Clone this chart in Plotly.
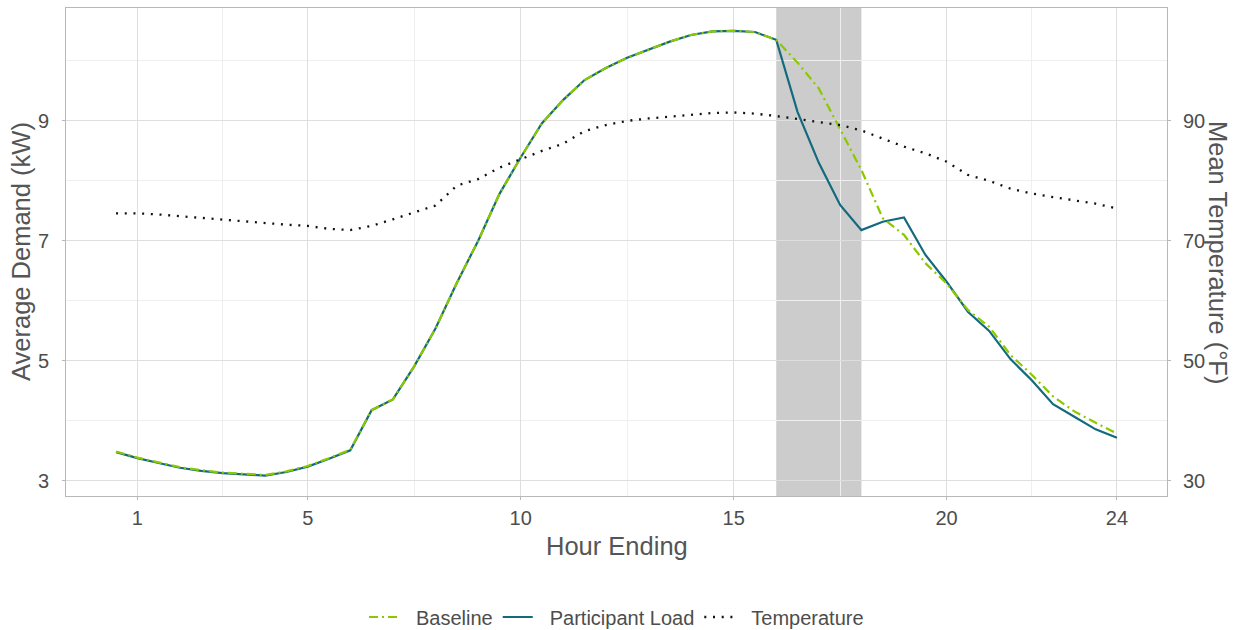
import plotly.graph_objects as go

# Half-hourly intervals, labelled by hour ending
hours = [h / 2 for h in range(1, 49)]

participant_kw = [
    3.48, 3.38, 3.30, 3.22, 3.17, 3.13, 3.11, 3.09, 3.15, 3.24, 3.37, 3.51,
    4.18, 4.36, 4.91, 5.54, 6.30, 7.00, 7.78, 8.39, 8.96, 9.35, 9.68, 9.88,
    10.05, 10.18, 10.32, 10.43, 10.49, 10.50, 10.48, 10.35,
    9.15, 8.30, 7.60, 7.18, 7.32, 7.39, 6.77, 6.32, 5.82, 5.50, 5.03, 4.68,
    4.28, 4.07, 3.86, 3.72,
]

baseline_kw = [
    3.49, 3.39, 3.31, 3.23, 3.18, 3.14, 3.12, 3.10, 3.16, 3.25, 3.38, 3.52,
    4.18, 4.36, 4.91, 5.54, 6.30, 7.00, 7.78, 8.39, 8.96, 9.35, 9.68, 9.88,
    10.05, 10.18, 10.32, 10.43, 10.49, 10.50, 10.48, 10.35,
    9.97, 9.54, 8.86, 8.18, 7.38, 7.10, 6.63, 6.29, 5.85, 5.57, 5.10, 4.77,
    4.41, 4.16, 3.97, 3.79,
]

temperature_f = [
    74.6, 74.6, 74.4, 74.1, 73.8, 73.5, 73.2, 72.9, 72.7, 72.5, 72.0, 71.8,
    72.5, 73.6, 74.7, 75.9, 79.2, 80.3, 82.2, 83.6, 85.0, 86.2, 88.3, 89.3,
    90.0, 90.4, 90.7, 91.0, 91.3, 91.4, 91.2, 90.8,
    90.3, 89.9, 89.3, 88.4, 87.1, 85.7, 84.6, 83.2, 81.0, 80.0, 78.7, 77.9,
    77.3, 76.8, 76.2, 75.4,
]

event_window = [16, 18]

x_ticks = [1, 5, 10, 15, 20, 24]
x_minor = [3, 7.5, 12.5, 17.5, 22]
kw_ticks = [3, 5, 7, 9]
kw_minor = [4, 6, 8, 10]
temp_ticks = [30, 50, 70, 90]

GREEN = "#8cc800"
TEAL = "#136a7f"
FONT = "Liberation Sans, Arial, sans-serif"
TICK_COLOR = "#4d4d4d"
TITLE_COLOR = "#555555"
BORDER = "#b8b8b8"
GRID_MAJOR = "#dedede"
GRID_MINOR = "#efefef"
TICK_SIZE = 20
TITLE_SIZE = 25.5

# Legend labels are padded so the text sits clear of the key
def legend_label(text):
    return "\u2009\u2009\u2009" + text

fig = go.Figure()

fig.add_trace(go.Scatter(
    x=hours, y=participant_kw, name=legend_label("Participant Load"),
    mode="lines", line=dict(color=TEAL, width=2.2), legendrank=2,
))
fig.add_trace(go.Scatter(
    x=hours, y=baseline_kw, name=legend_label("Baseline"), mode="lines",
    line=dict(color=GREEN, width=2.2, dash="9px,4px,2px,4px"), legendrank=1,
))
fig.add_trace(go.Scatter(
    x=hours, y=temperature_f, name=legend_label("Temperature"), mode="lines",
    yaxis="y2", line=dict(color="#111111", width=2.3, dash="2px,6.7px"),
    legendrank=3,
))

# Demand-response event window
fig.add_shape(
    type="rect", xref="x", yref="paper",
    x0=event_window[0], x1=event_window[1], y0=0, y1=1,
    fillcolor="rgba(0,0,0,0.2)", line=dict(width=0), layer="between",
)

axis_common = dict(
    showline=True, linecolor=BORDER, linewidth=1, mirror=True,
    ticks="outside", ticklen=3, tickcolor=BORDER, tickwidth=1,
    tickfont=dict(family=FONT, size=TICK_SIZE, color=TICK_COLOR),
    zeroline=False, automargin=False,
)

title_font = dict(family=FONT, size=TITLE_SIZE, color=TITLE_COLOR)

fig.update_layout(
    width=1236, height=630,
    paper_bgcolor="white", plot_bgcolor="white",
    margin=dict(l=66, r=69, t=8, b=134),
    font=dict(family=FONT, color=TICK_COLOR),
    xaxis=dict(
        range=[-0.675, 25.175], tickmode="array", tickvals=x_ticks,
        showgrid=True, gridcolor=GRID_MAJOR, gridwidth=1.2,
        minor=dict(tickmode="array", tickvals=x_minor, showgrid=True,
                   gridcolor=GRID_MINOR, gridwidth=1, ticks=""),
        ticklabelstandoff=1,
        **axis_common,
    ),
    yaxis=dict(
        range=[2.75, 10.88], tickmode="array", tickvals=kw_ticks,
        showgrid=True, gridcolor=GRID_MAJOR, gridwidth=1.2,
        minor=dict(tickmode="array", tickvals=kw_minor, showgrid=True,
                   gridcolor=GRID_MINOR, gridwidth=1, ticks=""),
        ticklabelstandoff=9,
        **axis_common,
    ),
    yaxis2=dict(
        overlaying="y", side="right",
        range=[27.5, 108.8], tickmode="array", tickvals=temp_ticks,
        showgrid=False,
        ticklabelstandoff=8,
        **axis_common,
    ),
    legend=dict(
        orientation="h", x=0.5, xanchor="center",
        yref="container", y=(630 - 617) / 630, yanchor="middle",
        font=dict(family=FONT, size=TICK_SIZE, color=TICK_COLOR),
        itemwidth=30, tracegroupgap=0,
    ),
    annotations=[
        dict(text="Hour Ending", xref="paper", yref="paper", x=0.5, y=0,
             xanchor="center", yanchor="middle", yshift=-50,
             showarrow=False, font=title_font),
        dict(text="Average Demand (kW)", textangle=-90,
             xref="paper", yref="paper", x=0, y=0.5,
             xanchor="center", yanchor="middle", xshift=-45,
             showarrow=False, font=title_font),
        dict(text="Mean Temperature (°F)", textangle=90,
             xref="paper", yref="paper", x=1, y=0.5,
             xanchor="center", yanchor="middle", xshift=51,
             showarrow=False, font=title_font),
    ],
)

fig.write_html("out.html")
